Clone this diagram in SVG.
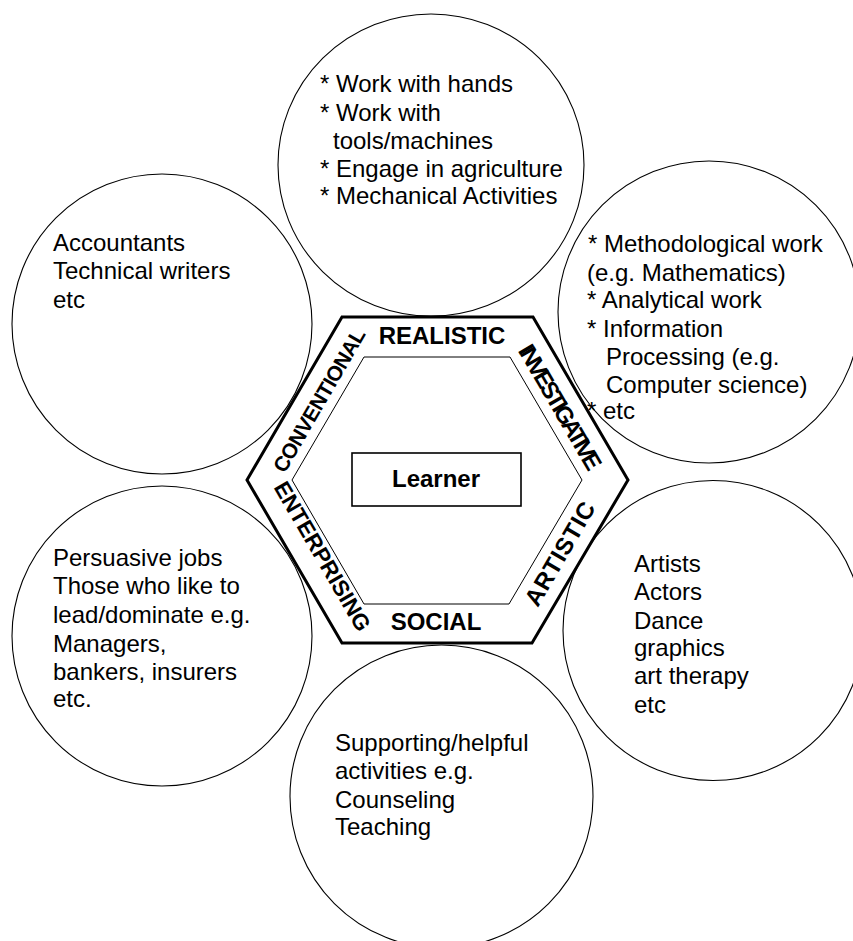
<svg xmlns="http://www.w3.org/2000/svg" width="853" height="941" viewBox="0 0 853 941">
<style>
.c{fill:none;stroke:#000;stroke-width:1.1}
.t{font-family:"Liberation Sans",Arial,sans-serif;font-size:24px;fill:#000}
.b{font-family:"Liberation Sans",Arial,sans-serif;font-size:24px;font-weight:bold;fill:#000}
</style>
<rect width="853" height="941" fill="#fff"/>
<g id="hexagon">
<polygon points="342,317 533,317 628,480 532,643 342,643 247,480" fill="#fff" stroke="#000" stroke-width="3" stroke-linejoin="miter"/>
<polygon points="364,357 510,357 582,480 509,604 364,604 292,480" fill="#fff" stroke="#000" stroke-width="1"/>
<text class="b" x="442" y="344" text-anchor="middle">REALISTIC</text>
<text class="b" x="436" y="630" text-anchor="middle">SOCIAL</text>
<text class="b" transform="translate(318.5,400) rotate(-59.8)" x="0" y="8" text-anchor="middle" style="font-size:21px" textLength="162">CONVENTIONAL</text>
<text class="b" transform="translate(560.5,407) rotate(59.8)" x="0" y="8.6" text-anchor="middle" textLength="141">INVESTIGATIVE</text>
<text class="b" transform="translate(559.5,553.5) rotate(-59.8)" x="0" y="8.6" text-anchor="middle" textLength="116">ARTISTIC</text>
<text class="b" transform="translate(323,556) rotate(59.8)" x="0" y="8.3" text-anchor="middle" style="font-size:22.5px" textLength="169">ENTERPRISING</text>
</g>
<g id="learner">
<rect x="352" y="453" width="169" height="53" fill="#fff" stroke="#000" stroke-width="1.6"/>
<text class="b" x="436" y="487" text-anchor="middle">Learner</text>
</g>
<g id="connectors"></g>
<g id="realistic-circle">
<ellipse class="c" cx="431" cy="165" rx="153" ry="151"/>
<text class="t" x="320" y="92">* Work with hands</text>
<text class="t" x="320" y="121">* Work with</text>
<text class="t" x="333" y="149">tools/machines</text>
<text class="t" x="320" y="177">* Engage in agriculture</text>
<text class="t" x="320" y="204">* Mechanical Activities</text>
</g>
<g id="investigative-circle">
<circle class="c" cx="709" cy="312" r="151"/>
<text class="t" x="588" y="252">* Methodological work</text>
<text class="t" x="587" y="281">(e.g. Mathematics)</text>
<text class="t" x="587" y="308">* Analytical work</text>
<text class="t" x="587" y="337">* Information</text>
<text class="t" x="606" y="365">Processing (e.g.</text>
<text class="t" x="606" y="393">Computer science)</text>
<text class="t" x="587" y="419">* etc</text>
</g>
<g id="conventional-circle">
<circle class="c" cx="162" cy="324" r="150"/>
<text class="t" x="53" y="251">Accountants</text>
<text class="t" x="53" y="279">Technical writers</text>
<text class="t" x="53" y="308">etc</text>
</g>
<g id="enterprising-circle">
<circle class="c" cx="162" cy="636" r="150"/>
<text class="t" x="53" y="566">Persuasive jobs</text>
<text class="t" x="53" y="594">Those who like to</text>
<text class="t" x="53" y="623">lead/dominate e.g.</text>
<text class="t" x="53" y="652">Managers,</text>
<text class="t" x="53" y="680">bankers, insurers</text>
<text class="t" x="53" y="707">etc.</text>
</g>
<g id="artistic-circle">
<circle class="c" cx="713" cy="630.5" r="150"/>
<text class="t" x="634" y="572">Artists</text>
<text class="t" x="634" y="600">Actors</text>
<text class="t" x="634" y="629">Dance</text>
<text class="t" x="634" y="656">graphics</text>
<text class="t" x="634" y="684">art therapy</text>
<text class="t" x="634" y="713">etc</text>
</g>
<g id="social-circle">
<circle class="c" cx="441.5" cy="796.5" r="151.5"/>
<text class="t" x="335" y="751">Supporting/helpful</text>
<text class="t" x="335" y="779">activities e.g.</text>
<text class="t" x="335" y="808">Counseling</text>
<text class="t" x="335" y="835">Teaching</text>
</g>
</svg>
